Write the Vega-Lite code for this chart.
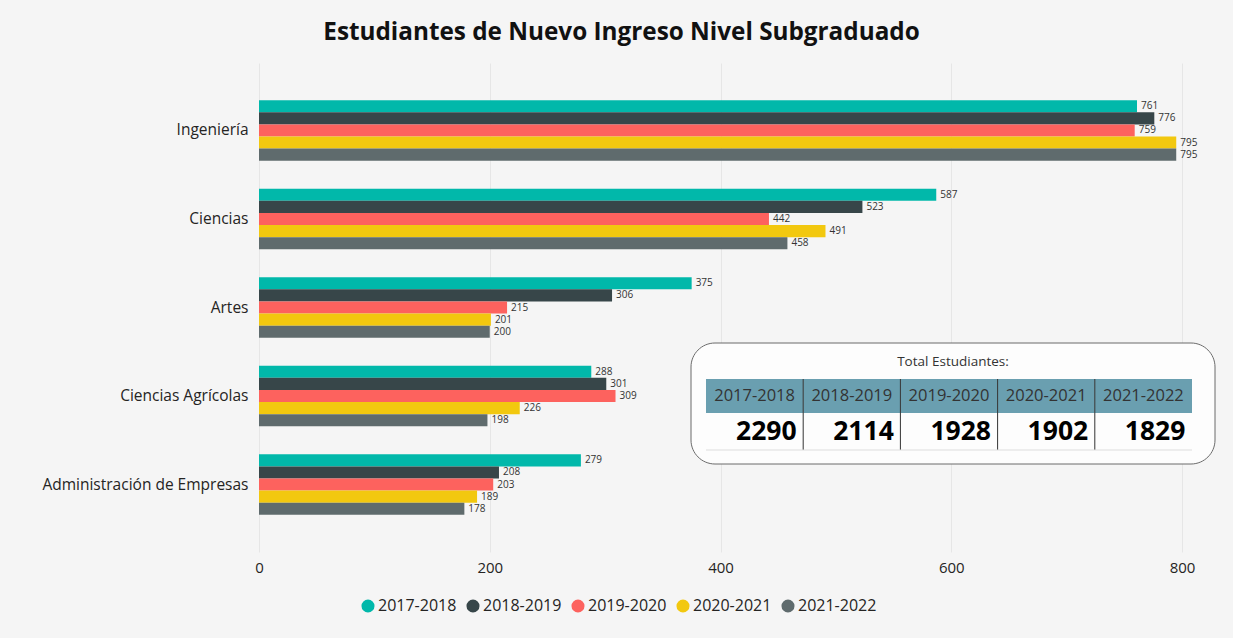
{
  "$schema": "https://vega.github.io/schema/vega-lite/v6.json",
  "width": 923,
  "height": 489,
  "autosize": {"type": "none"},
  "padding": {"left": 259, "top": 63, "right": 51, "bottom": 86},
  "background": "#f5f5f5",
  "config": {
    "view": {"stroke": null},
    "font": "Open Sans",
    "axis": {"labelFont": "Open Sans", "labelColor": "#333333"},
    "legend": {"labelFont": "Open Sans"}
  },
  "title": {
    "text": "Estudiantes de Nuevo Ingreso Nivel Subgraduado",
    "font": "Open Sans",
    "fontSize": 24.3,
    "fontWeight": "bold",
    "color": "#111111",
    "anchor": "middle",
    "dx": -99,
    "offset": 18
  },
  "data": {
    "values": [
      {"faculty": "Ingeniería", "year": "2017-2018", "value": 761},
      {"faculty": "Ingeniería", "year": "2018-2019", "value": 776},
      {"faculty": "Ingeniería", "year": "2019-2020", "value": 759},
      {"faculty": "Ingeniería", "year": "2020-2021", "value": 795},
      {"faculty": "Ingeniería", "year": "2021-2022", "value": 795},
      {"faculty": "Ciencias", "year": "2017-2018", "value": 587},
      {"faculty": "Ciencias", "year": "2018-2019", "value": 523},
      {"faculty": "Ciencias", "year": "2019-2020", "value": 442},
      {"faculty": "Ciencias", "year": "2020-2021", "value": 491},
      {"faculty": "Ciencias", "year": "2021-2022", "value": 458},
      {"faculty": "Artes", "year": "2017-2018", "value": 375},
      {"faculty": "Artes", "year": "2018-2019", "value": 306},
      {"faculty": "Artes", "year": "2019-2020", "value": 215},
      {"faculty": "Artes", "year": "2020-2021", "value": 201},
      {"faculty": "Artes", "year": "2021-2022", "value": 200},
      {"faculty": "Ciencias Agrícolas", "year": "2017-2018", "value": 288},
      {"faculty": "Ciencias Agrícolas", "year": "2018-2019", "value": 301},
      {"faculty": "Ciencias Agrícolas", "year": "2019-2020", "value": 309},
      {"faculty": "Ciencias Agrícolas", "year": "2020-2021", "value": 226},
      {"faculty": "Ciencias Agrícolas", "year": "2021-2022", "value": 198},
      {"faculty": "Administración de Empresas", "year": "2017-2018", "value": 279},
      {"faculty": "Administración de Empresas", "year": "2018-2019", "value": 208},
      {"faculty": "Administración de Empresas", "year": "2019-2020", "value": 203},
      {"faculty": "Administración de Empresas", "year": "2020-2021", "value": 189},
      {"faculty": "Administración de Empresas", "year": "2021-2022", "value": 178}
    ]
  },
  "resolve": {"scale": {"x": "independent", "y": "independent"}},
  "layer": [
    {
      "encoding": {
        "y": {
          "field": "faculty",
          "type": "nominal",
          "sort": null,
          "scale": {"paddingInner": 0.316, "paddingOuter": 0.42},
          "axis": {
            "title": null,
            "domain": false,
            "ticks": false,
            "labelFontSize": 15.5,
            "labelPadding": 11,
            "labelLimit": 400,
            "labelColor": "#252423"
          }
        },
        "yOffset": {
          "field": "year",
          "type": "nominal",
          "sort": ["2017-2018", "2018-2019", "2019-2020", "2020-2021", "2021-2022"]
        },
        "x": {
          "field": "value",
          "type": "quantitative",
          "scale": {"domain": [0, 800], "nice": false},
          "axis": {
            "title": null,
            "domain": false,
            "ticks": false,
            "values": [0, 200, 400, 600, 800],
            "labelOverlap": false,
            "labelFlush": false,
            "labelFontSize": 15,
            "labelPadding": 8,
            "gridColor": "#e6e6e6",
            "labelColor": "#252423"
          }
        }
      },
      "layer": [
        {
          "mark": {"type": "bar"},
          "encoding": {
            "color": {
              "field": "year",
              "type": "nominal",
              "scale": {
                "domain": ["2017-2018", "2018-2019", "2019-2020", "2020-2021", "2021-2022"],
                "range": ["#01B8AA", "#374649", "#FD625E", "#F2C80F", "#5F6B6D"]
              },
              "legend": {
                "title": null,
                "orient": "none",
                "direction": "horizontal",
                "legendX": 101,
                "legendY": 535,
                "symbolType": "circle",
                "symbolSize": 170,
                "symbolOpacity": 1,
                "labelFontSize": 16,
                "labelColor": "#252423",
                "columnPadding": 8,
                "labelOffset": 2
              }
            }
          }
        },
        {
          "mark": {"type": "text", "align": "left", "dx": 4, "fontSize": 10, "color": "#333333"},
          "encoding": {"text": {"field": "value", "type": "quantitative"}}
        }
      ]
    },
    {
      "layer": [
        {
          "transform": [{"aggregate": [{"op": "count", "as": "n"}]}],
          "mark": {"type": "rect", "cornerRadius": 24, "fill": "#fdfdfd", "stroke": "#6b6b6b", "strokeWidth": 1, "xOffset": -63.6, "x2Offset": 71.6, "yOffset": -19, "y2Offset": 0},
          "encoding": {
            "x": {"datum": "2017-2018", "type": "nominal", "axis": null},
            "x2": {"datum": "2021-2022"},
            "y": {"datum": "title", "type": "nominal", "axis": null},
            "y2": {"datum": "pad"}
          }
        },
        {
          "transform": [{"aggregate": [{"op": "sum", "field": "value", "as": "total"}], "groupby": ["year"]}],
          "mark": {"type": "rect", "fill": "#6a9fb0"},
          "encoding": {
            "x": {
              "field": "year",
              "type": "nominal",
              "sort": ["2017-2018", "2018-2019", "2019-2020", "2020-2021", "2021-2022"],
              "scale": {"range": [447, 933], "paddingInner": 0, "paddingOuter": 0},
              "axis": null
            },
            "y": {
              "datum": "header",
              "type": "nominal",
              "scale": {"domain": ["title", "header", "value", "pad"], "range": [282, 418], "paddingInner": 0, "paddingOuter": 0},
              "axis": null
            }
          }
        },
        {
          "transform": [{"aggregate": [{"op": "count", "as": "n"}]}],
          "mark": {"type": "text", "text": "Total Estudiantes:", "fontSize": 13.5, "color": "#333333", "dx": 4},
          "encoding": {
            "x": {"datum": "2019-2020", "type": "nominal", "axis": null},
            "y": {"datum": "title", "type": "nominal", "axis": null}
          }
        },
        {
          "transform": [{"aggregate": [{"op": "sum", "field": "value", "as": "total"}], "groupby": ["year"]}],
          "mark": {"type": "text", "fontSize": 16.5, "color": "#333333"},
          "encoding": {
            "x": {"field": "year", "type": "nominal", "axis": null},
            "y": {"datum": "header", "type": "nominal", "axis": null},
            "text": {"field": "year", "type": "nominal"}
          }
        },
        {
          "transform": [{"aggregate": [{"op": "sum", "field": "value", "as": "total"}], "groupby": ["year"]}],
          "mark": {"type": "text", "fontSize": 26.5, "fontWeight": "bold", "color": "#000000", "align": "right", "dx": 42, "dy": 2},
          "encoding": {
            "x": {"field": "year", "type": "nominal", "axis": null},
            "y": {"datum": "value", "type": "nominal", "axis": null},
            "text": {"field": "total", "type": "quantitative"}
          }
        },
        {
          "transform": [
            {"aggregate": [{"op": "sum", "field": "value", "as": "total"}], "groupby": ["year"]},
            {"filter": "datum.year !== '2017-2018'"}
          ],
          "mark": {"type": "rule", "color": "#333333", "strokeWidth": 1, "xOffset": -48.6, "yOffset": -17, "y2Offset": 20},
          "encoding": {
            "x": {"field": "year", "type": "nominal", "axis": null},
            "y": {"datum": "header", "type": "nominal", "axis": null},
            "y2": {"datum": "value"}
          }
        },
        {
          "transform": [{"aggregate": [{"op": "count", "as": "n"}]}],
          "mark": {"type": "rule", "color": "#dddddd", "strokeWidth": 1, "xOffset": -48.6, "x2Offset": 48.6, "yOffset": -14},
          "encoding": {
            "x": {"datum": "2017-2018", "type": "nominal", "axis": null},
            "x2": {"datum": "2021-2022"},
            "y": {"datum": "pad", "type": "nominal", "axis": null}
          }
        }
      ]
    }
  ]
}
